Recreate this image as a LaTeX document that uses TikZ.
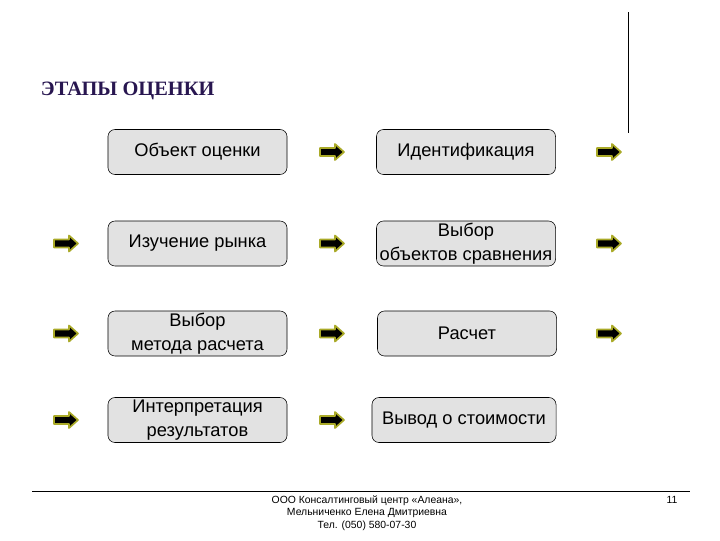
\documentclass[tikz,border=0pt]{standalone}
\usepackage{fontspec}
\setmainfont{Liberation Sans}
\newfontfamily\titlefont{Liberation Serif}
\usetikzlibrary{positioning}

\definecolor{titleviolet}{RGB}{40,22,80}
\definecolor{boxgray}{RGB}{226,226,226}
\definecolor{arrowolive}{RGB}{170,170,40}

\begin{document}
\begin{tikzpicture}[
  x=0.025cm, y=-0.025cm,
  every node/.style={font=\fontsize{13}{15}\selectfont},
  stage/.style={draw, fill=boxgray, rounded corners=5pt,
                minimum width=4.475cm, minimum height=1.125cm,
                align=center, inner sep=1pt},
  go/.pic={\draw[draw=arrowolive, fill=black, line width=1.2pt, line join=round]
             (-12,-4) -- (3,-4) -- (3,-8) -- (12,0) -- (3,8) -- (3,4)
             -- (-12,4) -- cycle;}
]
\useasboundingbox (0,0) rectangle (720,540);

%% --- Title ------------------------------------------------------
\node[anchor=west, text=titleviolet,
      font=\titlefont\bfseries\fontsize{14.5}{16}\selectfont]
     (title) at (36,91) {ЭТАПЫ ОЦЕНКИ};

\draw[line width=0.6pt] (628,12) -- (628,133);

%% --- Stages -----------------------------------------------------
\node[stage] (object)   at (197.5,152)   {Объект оценки};
\node[stage] (ident)    at (466,152)     {Идентификация};
\node[stage] (market)   at (197.5,243.5) {Изучение рынка};
\node[stage] (analogs)  at (466,243.5)   {Выбор\\[2pt]объектов сравнения};
\node[stage] (method)   at (197.5,333.5) {Выбор\\[2pt]метода расчета};
\node[stage] (calc)     at (467,333.5)   {Расчет};
\node[stage, minimum width=4.6cm] (value) at (464,420) {Вывод о стоимости};
\node[stage] (interp)   at (197.5,420)   {Интерпретация\\[2pt]результатов};

%% --- Arrows -----------------------------------------------------
\pic (a1m) at (332,152)   {go};
\pic (a1r) at (609,152)   {go};
\pic (a2l) at (66,243.5)  {go};
\pic (a2m) at (332,243.5) {go};
\pic (a2r) at (609,243.5) {go};
\pic (a3l) at (66,333.5)  {go};
\pic (a3m) at (332,333.5) {go};
\pic (a3r) at (609,333.5) {go};
\pic (a4l) at (66,420)    {go};
\pic (a4m) at (332,420)   {go};

%% --- Footer -----------------------------------------------------
\draw[line width=0.6pt] (32,491) -- (690,491);
\node[align=center, font=\fontsize{7.4}{9}\selectfont, anchor=north,
      inner sep=0pt]
     (footer) at (367,495)
     {ООО Консалтинговый центр «Алеана»,\\[0pt]
      Мельниченко Елена Дмитриевна\\[0pt]
      Тел. (050) 580-07-30};
\node[font=\fontsize{7.4}{9}\selectfont] (page) at (672,500) {11};

\end{tikzpicture}
\end{document}
